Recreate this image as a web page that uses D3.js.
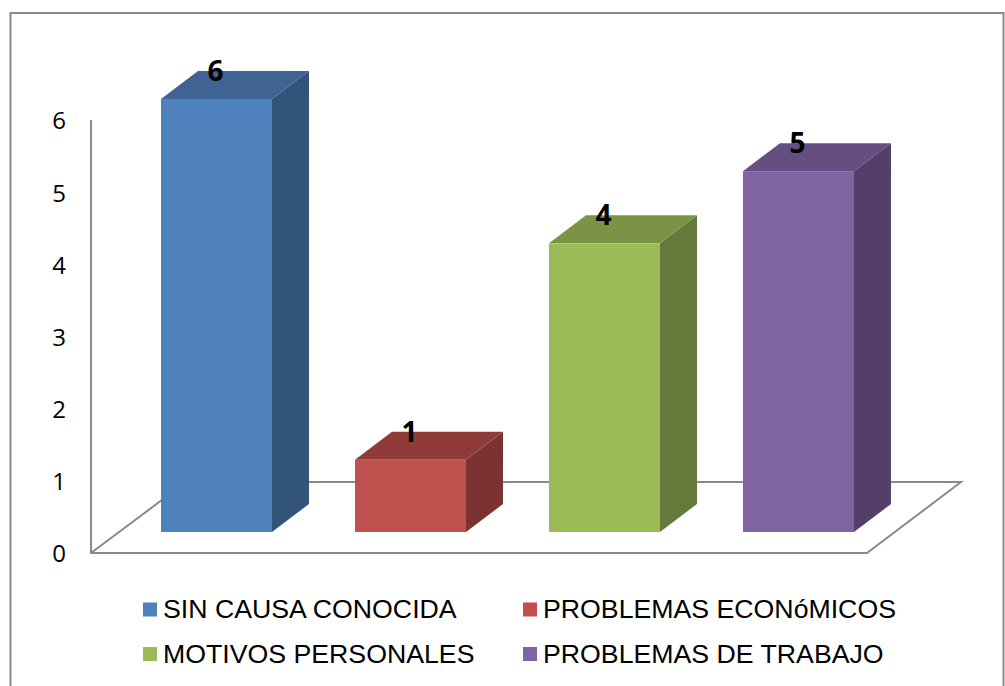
<!DOCTYPE html>
<html><head><meta charset="utf-8">
<script src="https://cdn.jsdelivr.net/npm/d3@7"></script>
<style>html,body{margin:0;padding:0;background:#fff}svg{display:block}</style>
</head><body><svg id="c" width="1005" height="686"></svg>
<script>
const categories = ["SIN CAUSA CONOCIDA","PROBLEMAS ECONóMICOS","MOTIVOS PERSONALES","PROBLEMAS DE TRABAJO"];
const values = [6,1,4,5];
const tickLabels = [0,1,2,3,4,5,6];
const frontColors = ["#4f81bd","#c0504d","#9bbb59","#8064a2"];
const topColors = ["#3f6392","#8e3a38","#7a9344","#654e80"];
const sideColors = ["#335479","#7b3230","#647a3a","#533f69"];

const svg = d3.select("#c");
const gray = "#8a8a8a";
const dx = 37, dy = -28;

// frame
svg.append("path").attr("d","M10.5,690V13H1003.5V690").attr("fill","none").attr("stroke",gray).attr("stroke-width",2);

const x = d3.scaleBand().domain(categories).range([119.5,895.5]).paddingInner(0.428).paddingOuter(0.214);
const yFront = d3.scaleLinear().domain([0,6]).range([532,99]);
const yAxisScale = d3.scaleLinear().domain([0,6]).range([553,120]);

// floor
svg.append("path").attr("d","M91,120V553H867L961,482H186L91,553")
  .attr("fill","none").attr("stroke",gray).attr("stroke-width",2);

// axis labels
const axis = d3.axisLeft(yAxisScale).tickValues(tickLabels).tickSize(0).tickPadding(0).tickFormat(d3.format("d"));
const ga = svg.append("g").attr("transform","translate(66,0.5)").call(axis);
ga.select(".domain").remove();
ga.selectAll("text").attr("font-family","'Open Sans'").attr("font-size",24).attr("fill","#000")
  .attr("text-anchor","end").attr("dy","0.35em");

// bars
const bars = svg.selectAll("g.bar").data(categories.map((c,i)=>({c,i,v:values[i]}))).join("g").attr("class","bar");
const bw = x.bandwidth();
bars.append("path").attr("fill",d=>sideColors[d.i]).attr("d",d=>{
  const r=x(d.c)+bw,t=yFront(d.v),b=yFront(0);
  return `M${r},${t}L${r+dx},${t+dy}V${b+dy}L${r},${b}Z`;});
bars.append("path").attr("fill",d=>topColors[d.i]).attr("d",d=>{
  const l=x(d.c),t=yFront(d.v);
  return `M${l},${t}L${l+dx},${t+dy}H${l+bw+dx}L${l+bw},${t}Z`;});
bars.append("rect").attr("fill",d=>frontColors[d.i]).attr("x",d=>x(d.c)).attr("y",d=>yFront(d.v))
  .attr("width",bw).attr("height",d=>yFront(0)-yFront(d.v));
bars.append("text").text(d=>d.v).attr("x",d=>x(d.c)+bw/2-1).attr("y",d=>yFront(d.v)-18)
  .attr("text-anchor","middle").attr("font-family","'Open Sans'").attr("font-weight",700)
  .attr("font-size",28).attr("fill","#000");

// legend
const legendX = [144,524,144,524], legendY = [609.5,609.5,654,654];
const lg = svg.selectAll("g.leg").data(categories).join("g").attr("class","leg")
  .attr("transform",(d,i)=>`translate(${legendX[i]},${legendY[i]})`);
lg.append("rect").attr("x",-1).attr("y",-7).attr("width",14).attr("height",14).attr("fill",(d,i)=>frontColors[i]);
lg.append("text").text(d=>d).attr("x",19).attr("y",8.5).attr("font-family","'Liberation Sans'")
  .attr("font-size",26.7).attr("fill","#000");
</script></body></html>
